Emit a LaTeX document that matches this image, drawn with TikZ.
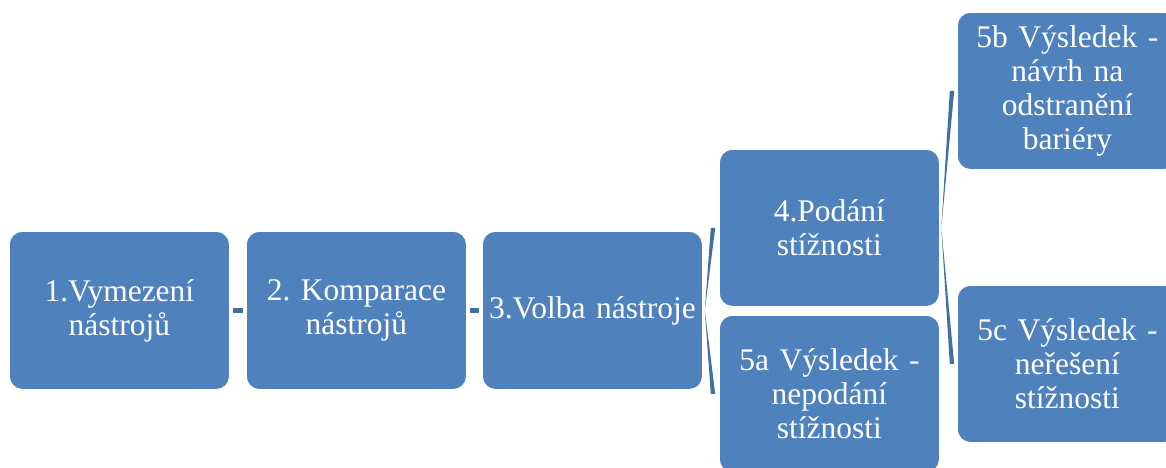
\documentclass[tikz,border=0pt]{standalone}
\usepackage{fontspec}
\setmainfont{Liberation Serif}
\usetikzlibrary{calc}
\definecolor{boxblue}{HTML}{4F81BD}
\definecolor{linkblue}{HTML}{41719C}
\tikzset{
  stepbox/.style={draw=white, line width=0.8pt, fill=boxblue, rounded corners=13pt,
    anchor=north west, minimum width=220pt, minimum height=#1, inner sep=0pt,
    text=white, align=center, text width=220pt,
    font=\fontsize{31.5}{34}\selectfont\frenchspacing},
  stepbox/.default=158pt,
  dashlink/.style={draw=linkblue, line width=5pt},
  taper/.style={fill=linkblue, draw=none}
}
\begin{document}
\begin{tikzpicture}[x=1pt,y=-1pt]
\useasboundingbox (0,0) rectangle (1166,468);
\clip (0,0) rectangle (1166,468);
\node[stepbox] (b1) at (9,231) {1.Vymezení\\nástrojů};
\node[stepbox] (b2) at (246,231) {2. Komparace\\nástrojů};
\node[stepbox] (b3) at (482,231) {3.Volba nástroje};
\node[stepbox=157pt] (b4) at (719,149) {4.Podání\\stížnosti};
\node[stepbox=157pt] (b5a) at (719,315) {5a Výsledek -\\nepodání\\stížnosti};
\node[stepbox=157pt] (b5b) at (957,12) {5b Výsledek -\\návrh na\\odstranění\\bariéry};
\node[stepbox=157pt] (b5c) at (957,285) {5c Výsledek -\\neřešení\\stížnosti};
% dash connectors
\draw[dashlink] ($(b1.east)!0.2!(b2.west)$) -- ($(b1.east)!0.8!(b2.west)$);
\draw[dashlink] ($(b2.east)!0.2!(b3.west)$) -- ($(b2.east)!0.8!(b3.west)$);
% tapered branch connectors
\coordinate (s3) at ($(b3.east)+(2,0)$);
\coordinate (e4) at ($(b4.west)+(-6,0)$);
\coordinate (e5a) at ($(b5a.west)+(-6,0)$);
\fill[taper] (s3) -- ($(e4)+(-2.2,0)$) -- ($(e4)+(2.2,0)$) -- cycle;
\fill[taper] (s3) -- ($(e5a)+(-2.2,0)$) -- ($(e5a)+(2.2,0)$) -- cycle;
\coordinate (s4) at ($(b4.east)+(1.5,0)$);
\coordinate (e5b) at ($(b5b.west)+(-5,0)$);
\coordinate (e5c) at ($(b5c.west)+(-5,0)$);
\fill[taper] (s4) -- ($(e5b)+(-2.2,0)$) -- ($(e5b)+(2.2,0)$) -- cycle;
\fill[taper] (s4) -- ($(e5c)+(-2.2,0)$) -- ($(e5c)+(2.2,0)$) -- cycle;
\end{tikzpicture}
\end{document}
